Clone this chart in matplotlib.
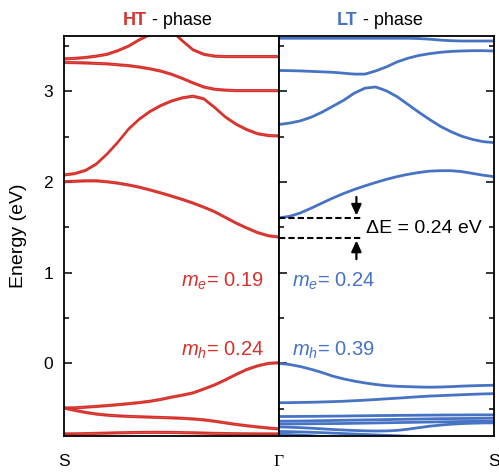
import numpy as np
import matplotlib.pyplot as plt
from matplotlib.ticker import MultipleLocator

plt.rcParams['font.family'] = 'Liberation Sans'
plt.rcParams['mathtext.fontset'] = 'custom'
plt.rcParams['mathtext.it'] = 'Liberation Sans:italic'
plt.rcParams['mathtext.rm'] = 'Liberation Sans'

red = '#d7312b'
blue = '#4673c4'

# path coordinate, 0..1 along each segment (HT: S -> Gamma, LT: Gamma -> S)
k = np.linspace(0, 1, 21)

# HT phase bands (eV), S -> Gamma
ht_v1 = [-0.500, -0.497, -0.490, -0.482, -0.473, -0.463, -0.452, -0.440, -0.425, -0.405, -0.380,
         -0.358, -0.333, -0.290, -0.245, -0.190, -0.130, -0.075, -0.035, -0.008, 0.000]
ht_v2 = [-0.500, -0.525, -0.548, -0.566, -0.578, -0.586, -0.592, -0.596, -0.600, -0.604, -0.608,
         -0.613, -0.620, -0.630, -0.645, -0.663, -0.680, -0.695, -0.708, -0.720, -0.730]
ht_v3 = [-0.785, -0.784, -0.782, -0.779, -0.776, -0.773, -0.771, -0.769, -0.768, -0.768, -0.769,
         -0.771, -0.773, -0.776, -0.779, -0.781, -0.783, -0.784, -0.785, -0.785, -0.785]
ht_c1 = [1.995, 2.000, 2.005, 2.005, 1.995, 1.980, 1.960, 1.935, 1.905, 1.872, 1.837,
         1.800, 1.760, 1.715, 1.665, 1.603, 1.540, 1.485, 1.435, 1.400, 1.385]
ht_c2 = [2.070, 2.085, 2.120, 2.190, 2.300, 2.430, 2.575, 2.685, 2.770, 2.835, 2.885,
         2.920, 2.938, 2.910, 2.815, 2.710, 2.630, 2.570, 2.525, 2.505, 2.500]
ht_c3 = [3.310, 3.308, 3.305, 3.300, 3.295, 3.285, 3.275, 3.260, 3.240, 3.215, 3.180,
         3.135, 3.085, 3.040, 3.015, 3.005, 3.000, 3.000, 3.000, 3.000, 3.000]
ht_c4 = [3.350, 3.355, 3.365, 3.380, 3.400, 3.440, 3.490, 3.560, 3.620, 3.700, 3.660,
         3.550, 3.450, 3.400, 3.380, 3.375, 3.375, 3.375, 3.375, 3.375, 3.375]

# LT phase bands (eV), Gamma -> S
lt_v1 = [0.000, -0.012, -0.035, -0.065, -0.100, -0.140, -0.170, -0.195, -0.215, -0.232, -0.245,
         -0.252, -0.256, -0.260, -0.262, -0.260, -0.256, -0.250, -0.246, -0.243, -0.240]
lt_v2 = [-0.433, -0.432, -0.430, -0.428, -0.425, -0.421, -0.417, -0.411, -0.405, -0.398, -0.390,
         -0.383, -0.375, -0.367, -0.360, -0.355, -0.350, -0.345, -0.340, -0.336, -0.333]
lt_v3 = [-0.585, -0.585, -0.584, -0.583, -0.582, -0.581, -0.580, -0.578, -0.577, -0.575, -0.574,
         -0.573, -0.572, -0.571, -0.570, -0.569, -0.568, -0.568, -0.567, -0.567, -0.567]
lt_v4 = [-0.637, -0.636, -0.635, -0.633, -0.631, -0.629, -0.627, -0.625, -0.623, -0.621, -0.619,
         -0.617, -0.615, -0.613, -0.611, -0.609, -0.608, -0.607, -0.606, -0.605, -0.604]
lt_v5 = [-0.667, -0.667, -0.666, -0.665, -0.664, -0.663, -0.662, -0.660, -0.658, -0.656, -0.654,
         -0.652, -0.650, -0.648, -0.646, -0.644, -0.642, -0.640, -0.639, -0.638, -0.637]
lt_v6 = [-0.700, -0.703, -0.708, -0.714, -0.721, -0.728, -0.734, -0.739, -0.743, -0.745, -0.744,
         -0.738, -0.725, -0.708, -0.692, -0.680, -0.670, -0.663, -0.659, -0.656, -0.655]
lt_v7 = [-0.750, -0.752, -0.755, -0.759, -0.763, -0.768, -0.773, -0.778, -0.783, -0.788, -0.793,
         -0.798, -0.803, -0.808, -0.813, -0.818, -0.823, -0.828, -0.833, -0.838, -0.843]
lt_v8 = [-0.780, -0.784, -0.790, -0.797, -0.805, -0.814, -0.824, -0.835, -0.846, -0.858, -0.870,
         -0.882, -0.894, -0.906, -0.918, -0.930, -0.942, -0.954, -0.966, -0.978, -0.990]
lt_c1 = [1.605, 1.622, 1.660, 1.712, 1.768, 1.823, 1.873, 1.918, 1.958, 1.995, 2.030,
         2.060, 2.085, 2.105, 2.120, 2.125, 2.125, 2.115, 2.095, 2.075, 2.060]
lt_c2 = [2.635, 2.650, 2.675, 2.715, 2.770, 2.835, 2.900, 2.980, 3.035, 3.048, 3.005,
         2.940, 2.855, 2.770, 2.690, 2.615, 2.555, 2.505, 2.470, 2.445, 2.435]
lt_c3 = [3.230, 3.228, 3.225, 3.220, 3.215, 3.210, 3.200, 3.190, 3.190, 3.225, 3.270,
         3.325, 3.365, 3.395, 3.415, 3.430, 3.440, 3.445, 3.448, 3.448, 3.445]
lt_c4 = [3.585, 3.585, 3.585, 3.585, 3.585, 3.585, 3.585, 3.585, 3.585, 3.585, 3.585,
         3.585, 3.585, 3.582, 3.575, 3.565, 3.558, 3.555, 3.555, 3.555, 3.555]

ht_bands = [ht_v1, ht_v2, ht_v3, ht_c1, ht_c2, ht_c3, ht_c4]
lt_bands = [lt_v1, lt_v2, lt_v3, lt_v4, lt_v5, lt_v6, lt_v7, lt_v8, lt_c1, lt_c2, lt_c3, lt_c4]

# band edges at Gamma for the offset marker
cbm_lt = 1.605
cbm_ht = 1.38

fig = plt.figure(figsize=(4.99, 4.72), dpi=100)
ax1 = fig.add_axes([64 / 499, 36 / 472, 215 / 499, 400 / 472])
ax2 = fig.add_axes([279 / 499, 36 / 472, 215 / 499, 400 / 472])

for b in ht_bands:
    b = np.array(b)
    ax1.plot(k, b, color=red, lw=1.2)
    ax1.plot(k, b + 0.016, color=red, lw=1.2)

for b in lt_bands:
    ax2.plot(k, b, color=blue, lw=2.0)

for ax in (ax1, ax2):
    ax.set_xlim(0, 1)
    ax.set_ylim(-0.80, 3.61)
    ax.yaxis.set_major_locator(MultipleLocator(1))
    ax.yaxis.set_minor_locator(MultipleLocator(0.5))
    for s in ax.spines.values():
        s.set_linewidth(1.3)
    ax.tick_params(axis='y', which='major', direction='in', length=6, width=1.1)
    ax.tick_params(axis='y', which='minor', direction='in', length=3.5, width=1.1)
    ax.tick_params(axis='x', length=0, pad=13, labelsize=12.5)

ax1.tick_params(axis='y', which='both', left=True, right=False, labelsize=12.5, pad=8)
ax2.tick_params(axis='y', which='both', left=True, right=True, labelleft=False)

ax1.set_xticks([0, 1])
ax1.set_xticklabels(['S', 'Γ'])
ax1.get_xticklabels()[1].set_fontfamily('Liberation Serif')
ax2.set_xticks([1])
ax2.set_xticklabels(['S'])

ax1.set_ylabel('Energy (eV)', fontsize=14)
ax1.yaxis.set_label_coords(-0.17, 0.5)

# titles
ax1.text(0.386, 1.028, 'HT', transform=ax1.transAxes, ha='right', va='baseline',
         color=red, fontweight='bold', fontsize=13)
ax1.text(0.386, 1.028, ' - phase', transform=ax1.transAxes, ha='left', va='baseline', fontsize=13)
ax2.text(0.367, 1.028, 'LT', transform=ax2.transAxes, ha='right', va='baseline',
         color=blue, fontweight='bold', fontsize=13)
ax2.text(0.367, 1.028, ' - phase', transform=ax2.transAxes, ha='left', va='baseline', fontsize=13)

# effective masses
ax1.text(0.93, 0.91, r'$m_e$= 0.19', color=red, fontsize=14.5, ha='right', va='center')
ax1.text(0.93, 0.14, r'$m_h$= 0.24', color=red, fontsize=14.5, ha='right', va='center')
ax2.text(0.06, 0.91, r'$m_e$= 0.24', color=blue, fontsize=14.5, ha='left', va='center')
ax2.text(0.06, 0.14, r'$m_h$= 0.39', color=blue, fontsize=14.5, ha='left', va='center')

# conduction band offset
ax2.plot([0, 0.385], [cbm_lt, cbm_lt], color='k', lw=1.5, dashes=(3, 1.5))
ax2.plot([0, 0.385], [cbm_ht, cbm_ht], color='k', lw=1.5, dashes=(3, 1.5))
arr = dict(arrowstyle='-|>,head_width=0.3,head_length=0.65', color='k', lw=1.6,
           shrinkA=0, shrinkB=0)
ax2.annotate('', xy=(0.36, cbm_lt + 0.025), xytext=(0.36, cbm_lt + 0.23), arrowprops=arr)
ax2.annotate('', xy=(0.36, cbm_ht - 0.025), xytext=(0.36, cbm_ht - 0.23), arrowprops=arr)
ax2.text(0.405, 1.49, 'ΔE = 0.24 eV', fontsize=14, ha='left', va='center')

plt.savefig('out.png', dpi=100)
